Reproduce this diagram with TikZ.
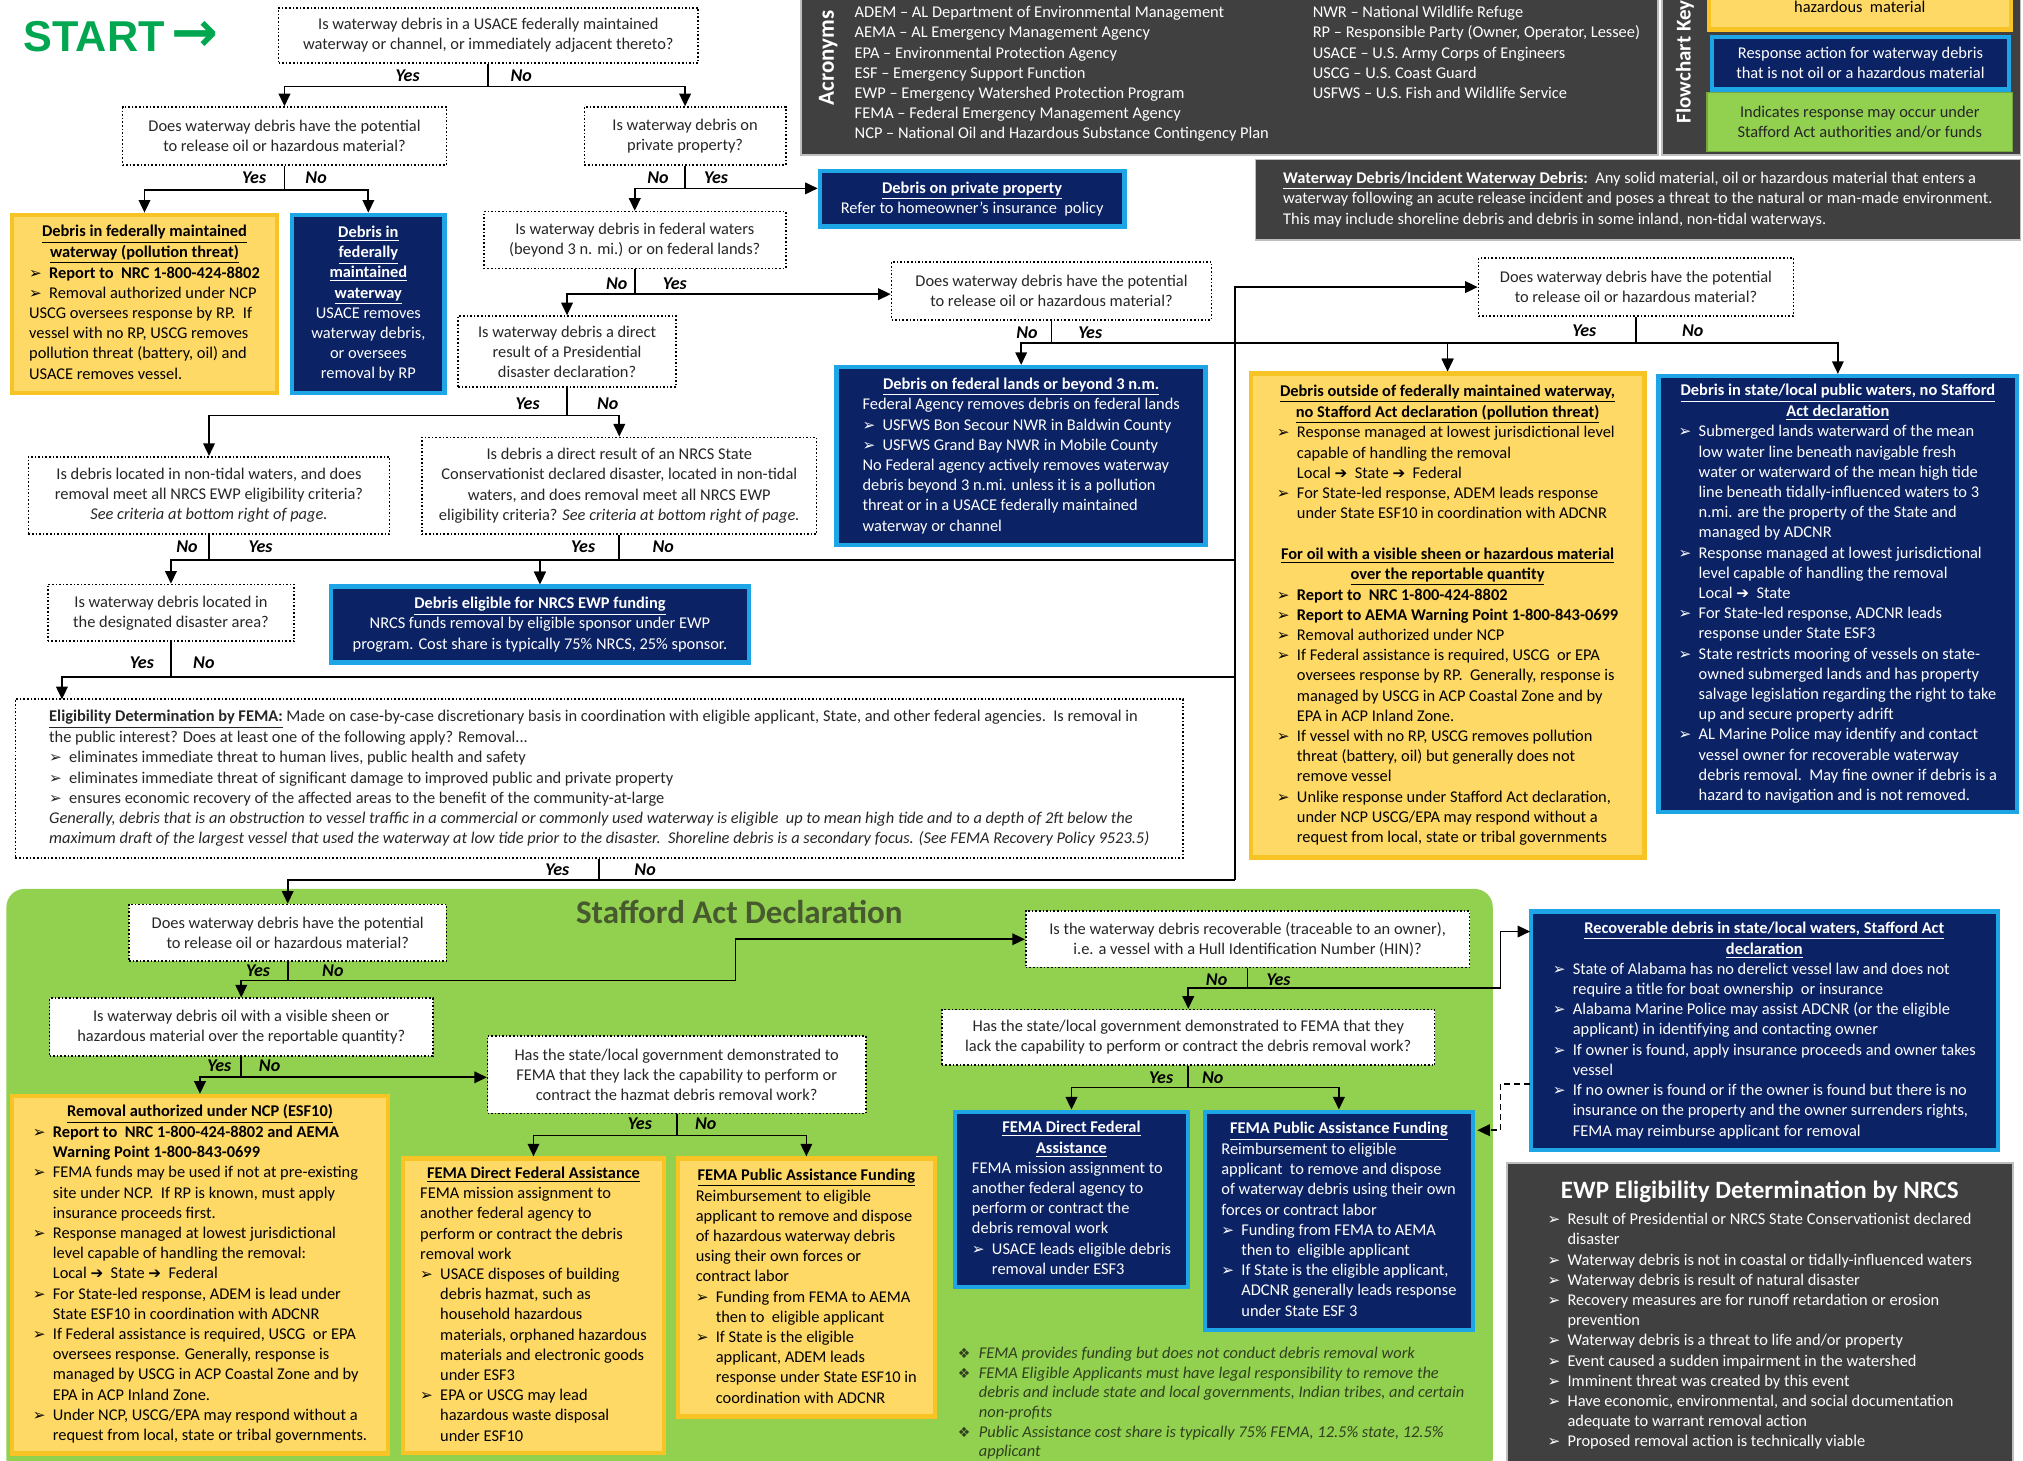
\documentclass[tikz,border=0pt]{standalone}
\usepackage{fontspec}
\setmainfont{Carlito}
\newfontfamily\symf{DejaVu Sans}
\newfontfamily\startf{Liberation Sans}
\usetikzlibrary{arrows.meta}
\definecolor{navyfill}{HTML}{0B2265}
\definecolor{navyline}{HTML}{1EA5E6}
\definecolor{hazfill}{HTML}{FFD966}
\definecolor{hazline}{HTML}{F7C325}
\definecolor{stafford}{HTML}{92D050}
\definecolor{panelgrey}{HTML}{404040}
\definecolor{startgreen}{HTML}{00A650}
\definecolor{olive}{HTML}{46592F}
\definecolor{notegreen}{HTML}{30401F}
\newcommand\bul{\makebox[10pt][l]{\symf\fontsize{7.6}{8}\selectfont ➢}}
\newcommand\ind{\hspace*{10pt}}
\newcommand\rar{{\symf\fontsize{7.6}{8}\selectfont ➔}}
\newcommand\dia{\makebox[10.5pt][l]{\symf\fontsize{7}{8}\selectfont ❖}}
\newcommand\ttl[1]{\multicolumn{1}{@{}c@{}}{\bfseries\underline{#1}}}
\newcommand\ctr[1]{\multicolumn{1}{@{}c@{}}{#1}}
\newcommand\tb[1]{\begin{tabular}{@{}l@{}}#1\end{tabular}}

\begin{document}
\begin{tikzpicture}[x=0.645pt, y=-0.645pt,
  font=\fontsize{8.2}{10.1}\selectfont,
  wh/.code 2 args={\pgfmathsetlengthmacro\boxw{(#1)*0.645pt}\pgfmathsetlengthmacro\boxh{(#2)*0.645pt}%
    \edef\whtmp{\noexpand\pgfkeysalso{minimum width=\boxw, minimum height=\boxh}}\whtmp},
  qbox/.style={draw, densely dotted, line width=0.8pt, fill=white, text=black!85, align=center, inner sep=2pt},
  navybox/.style={draw=navyline, line width=2.2pt, fill=navyfill, text=white, inner xsep=4pt, inner ysep=2pt},
  hazbox/.style={draw=hazline, line width=2.2pt, fill=hazfill, text=black, inner xsep=4pt, inner ysep=2pt},
  panel/.style={fill=panelgrey, draw=gray!50, line width=0.8pt, text=white},
  yn/.style={font=\fontsize{9}{10}\selectfont\bfseries\itshape, inner sep=0pt},
  link/.style={line width=0.85pt},
  flow/.style={link, -{Triangle[length=6.3pt, width=5.8pt]}}
]
\useasboundingbox (0,0) rectangle (1568,1132);

% background regions
\node[fill=stafford, rounded corners=9pt, wh={1152}{456}] (stafford) at (581,917) {};
\node[font=\fontsize{16.5}{18}\selectfont\bfseries, text=olive] (staffordTitle) at (573,707) {Stafford Act Declaration};
\node[panel, wh={664}{125}] (acro) at (953,57.5) {};
\node[panel, wh={278}{125}] (keyp) at (1427,57.5) {};
\node[panel, wh={593}{62.5}] (defp) at (1269.5,154.75) {\tb{\textbf{\underline{Waterway Debris/Incident Waterway Debris}:}\ \ Any solid material, oil or hazardous material that enters a\\
  waterway following an acute release incident and poses a threat to the natural or man-made environment.\\
  This may include shoreline debris and debris in some inland, non-tidal waterways.}};
\node[panel, wh={392}{238.5}] (ewpPanel) at (1364,1020.75) {\tb{\multicolumn{1}{@{}c@{}}{\fontsize{12.5}{15}\selectfont\bfseries EWP Eligibility Determination by NRCS}\\[3pt]
  \bul Result of Presidential or NRCS State Conservationist declared\\
  \ind disaster\\
  \bul Waterway debris is not in coastal or tidally-influenced waters\\
  \bul Waterway debris is result of natural disaster\\
  \bul Recovery measures are for runoff retardation or erosion\\
  \ind prevention\\
  \bul Waterway debris is a threat to life and/or property\\
  \bul Event caused a sudden impairment in the watershed\\
  \bul Imminent threat was created by this event\\
  \bul Have economic, environmental, and social documentation\\
  \ind adequate to warrant removal action\\
  \bul Proposed removal action is technically viable}};

% acronyms and key
\node[rotate=90, font=\fontsize{11.5}{13}\selectfont\bfseries, text=white] (acroLbl) at (642,45) {Acronyms};
\node[anchor=west, text=white] (acroList) at (657,57.5) {\begin{tabular}{@{}p{229pt}@{}l@{}}
  ADEM – AL Department of Environmental Management & NWR – National Wildlife Refuge\\
  AEMA – AL Emergency Management Agency & RP – Responsible Party (Owner, Operator, Lessee)\\
  EPA – Environmental Protection Agency & USACE – U.S. Army Corps of Engineers\\
  ESF – Emergency Support Function & USCG – U.S. Coast Guard\\
  EWP – Emergency Watershed Protection Program & USFWS – U.S. Fish and Wildlife Service\\
  FEMA – Federal Emergency Management Agency & \\
  NCP – National Oil and Hazardous Substance Contingency Plan &
\end{tabular}};
\node[rotate=90, anchor=west, font=\fontsize{10.5}{12}\selectfont\bfseries, text=white] (keyLbl) at (1306,101) {Flowchart Key};
\node[hazbox, wh={234}{41}, align=center] (keyHaz) at (1441.5,2.25) {\mbox{}\\hazardous\ \ material};
\node[navybox, wh={230}{41}, align=center] (keyNavy) at (1442,49) {Response action for waterway debris\\that is not oil or a hazardous material};
\node[fill=stafford, draw=stafford!80!black, line width=0.6pt, wh={237}{45.6}, align=center, text=black!85] (keyGreen) at (1441.5,94.8) {Indicates response may occur under\\Stafford Act authorities and/or funds};

\node[anchor=west, text=startgreen, font=\startf\fontsize{21.6}{24}\selectfont\bfseries] (start) at (13,28.5) {START\,{\symf\fontsize{28}{28}\selectfont →}};

% questions
\node[qbox, wh={325}{43}] (q1) at (378.5,27.5) {Is waterway debris in a USACE federally maintained\\waterway or channel, or immediately adjacent thereto?};
\node[qbox, wh={251}{45}] (q2) at (220.5,105.5) {Does waterway debris have the potential\\to release oil or hazardous material?};
\node[qbox, wh={156}{45}] (q3) at (531,105.5) {Is waterway debris on\\private property?};
\node[qbox, wh={234}{44}] (q4) at (492,186) {Is waterway debris in federal waters\\(beyond 3 n. mi.) or on federal lands?};
\node[qbox, wh={169}{55}] (q5) at (439.5,272.5) {Is waterway debris a direct\\result of a Presidential\\disaster declaration?};
\node[qbox, wh={248}{45}] (q6) at (815,225.5) {Does waterway debris have the potential\\to release oil or hazardous material?};
\node[qbox, wh={244}{45}] (q9) at (1268,222.5) {Does waterway debris have the potential\\to release oil or hazardous material?};
\node[qbox, wh={280}{60}] (q7) at (162,384) {Is debris located in non-tidal waters, and does\\removal meet all NRCS EWP eligibility criteria?\\\textit{See criteria at bottom right of page.}};
\node[qbox, wh={306}{75}] (q8) at (480,376.5) {Is debris a direct result of an NRCS State\\Conservationist declared disaster, located in non-tidal\\waters, and does removal meet all NRCS EWP\\eligibility criteria? \textit{See criteria at bottom right of page.}};
\node[qbox, wh={191}{44}] (qd) at (132.5,475) {Is waterway debris located in\\the designated disaster area?};
\node[qbox, wh={905}{123}] (fema) at (464.5,603.5) {\tb{\textbf{\underline{Eligibility Determination by FEMA:}} Made on case-by-case discretionary basis in coordination with eligible applicant, State, and other federal agencies.\ \ Is removal in\\
  the public interest? Does at least one of the following apply? Removal...\\
  \bul eliminates immediate threat to human lives, public health and safety\\
  \bul eliminates immediate threat of significant damage to improved public and private property\\
  \bul ensures economic recovery of the affected areas to the benefit of the community-at-large\\
  \itshape Generally, debris that is an obstruction to vessel traffic in a commercial or commonly used waterway is eligible\ \ up to mean high tide and to a depth of 2ft below the\\
  \itshape maximum draft of the largest vessel that used the waterway at low tide prior to the disaster.\ \ Shoreline debris is a secondary focus. (See FEMA Recovery Policy 9523.5)}};
\node[qbox, wh={246}{44}] (q10) at (223,723) {Does waterway debris have the potential\\to release oil or hazardous material?};
\node[qbox, wh={297}{44.5}] (q11) at (187,796) {Is waterway debris oil with a visible sheen or\\hazardous material over the reportable quantity?};
\node[qbox, wh={293}{60}] (q13) at (524.5,833) {Has the state/local government demonstrated to\\FEMA that they lack the capability to perform or\\contract the hazmat debris removal work?};
\node[qbox, wh={344}{43.5}] (q12) at (967,728) {Is the waterway debris recoverable (traceable to an owner),\\i.e. a vessel with a Hull Identification Number (HIN)?};
\node[qbox, wh={382}{43}] (q14) at (921,804) {Has the state/local government demonstrated to FEMA that they\\lack the capability to perform or contract the debris removal work?};

% outcomes
\node[navybox, wh={236}{43}, align=center] (priv) at (753.5,154) {\textbf{\underline{Debris on private property}}\\Refer to homeowner's insurance\ \ policy};
\node[hazbox, wh={205}{138}] (boxA) at (112,235.5) {\tb{\ttl{Debris in federally maintained}\\
  \ttl{waterway (pollution threat)}\\
  \bul\textbf{Report to\ \ NRC 1-800-424-8802}\\
  \bul Removal authorized under NCP\\
  USCG oversees response by RP.\ \ If\\
  vessel with no RP, USCG removes\\
  pollution threat (battery, oil) and\\
  USACE removes vessel.}};
\node[navybox, wh={118}{138}, align=center] (boxB) at (285.5,235.5) {\textbf{\underline{Debris in}}\\\textbf{\underline{federally}}\\\textbf{\underline{maintained}}\\\textbf{\underline{waterway}}\\USACE removes\\waterway debris,\\or oversees\\removal by RP};
\node[navybox, wh={286}{138}] (fed) at (791.5,353.5) {\tb{\ttl{Debris on federal lands or beyond 3 n.m.}\\
  \ctr{Federal Agency removes debris on federal lands}\\
  \bul USFWS Bon Secour NWR in Baldwin County\\
  \bul USFWS Grand Bay NWR in Mobile County\\
  No Federal agency actively removes waterway\\
  debris beyond 3 n.mi. unless it is a pollution\\
  threat or in a USACE federally maintained\\
  waterway or channel}};
\node[hazbox, wh={305}{375}] (boxC) at (1122,477) {\tb{\ttl{Debris outside of federally maintained waterway,}\\
  \ttl{no Stafford Act declaration (pollution threat)}\\
  \bul Response managed at lowest jurisdictional level\\
  \ind capable of handling the removal\\
  \ind Local \rar\ \ State \rar\ \ Federal\\
  \bul For State-led response, ADEM leads response\\
  \ind under State ESF10 in coordination with ADCNR\\
  \\
  \ttl{For oil with a visible sheen or hazardous material}\\
  \ttl{over the reportable quantity}\\
  \bul\textbf{Report to\ \ NRC 1-800-424-8802}\\
  \bul\textbf{Report to AEMA Warning Point 1-800-843-0699}\\
  \bul Removal authorized under NCP\\
  \bul If Federal assistance is required, USCG\ \ or EPA\\
  \ind oversees response by RP.\ \ Generally, response is\\
  \ind managed by USCG in ACP Coastal Zone and by\\
  \ind EPA in ACP Inland Zone.\\
  \bul If vessel with no RP, USCG removes pollution\\
  \ind threat (battery, oil) but generally does not\\
  \ind remove vessel\\
  \bul Unlike response under Stafford Act declaration,\\
  \ind under NCP USCG/EPA may respond without a\\
  \ind request from local, state or tribal governments}};
\node[navybox, wh={278}{338}] (boxD) at (1424.5,460.5) {\tb{\ttl{Debris in state/local public waters, no Stafford}\\
  \ttl{Act declaration}\\
  \bul Submerged lands waterward of the mean\\
  \ind low water line beneath navigable fresh\\
  \ind water or waterward of the mean high tide\\
  \ind line beneath tidally-influenced waters to 3\\
  \ind n.mi. are the property of the State and\\
  \ind managed by ADCNR\\
  \bul Response managed at lowest jurisdictional\\
  \ind level capable of handling the removal\\
  \ind Local \rar\ \ State\\
  \bul For State-led response, ADCNR leads\\
  \ind response under State ESF3\\
  \bul State restricts mooring of vessels on state-\\
  \ind owned submerged lands and has property\\
  \ind salvage legislation regarding the right to take\\
  \ind up and secure property adrift\\
  \bul AL Marine Police may identify and contact\\
  \ind vessel owner for recoverable waterway\\
  \ind debris removal.\ \ May fine owner if debris is a\\
  \ind hazard to navigation and is not removed.}};
\node[navybox, wh={324}{59}, align=center] (ewp) at (418.5,484) {\textbf{\underline{Debris eligible for NRCS EWP funding}}\\NRCS funds removal by eligible sponsor under EWP\\program. Cost share is typically 75\% NRCS, 25\% sponsor.};
\node[hazbox, wh={291}{277}] (boxE) at (155,988) {\tb{\ttl{Removal authorized under NCP (ESF10)}\\
  \bul\textbf{Report to\ \ NRC 1-800-424-8802 and AEMA}\\
  \ind\textbf{Warning Point 1-800-843-0699}\\
  \bul FEMA funds may be used if not at pre-existing\\
  \ind site under NCP.\ \ If RP is known, must apply\\
  \ind insurance proceeds first.\\
  \bul Response managed at lowest jurisdictional\\
  \ind level capable of handling the removal:\\
  \ind Local \rar\ \ State \rar\ \ Federal\\
  \bul For State-led response, ADEM is lead under\\
  \ind State ESF10 in coordination with ADCNR\\
  \bul If Federal assistance is required, USCG\ \ or EPA\\
  \ind oversees response. Generally, response is\\
  \ind managed by USCG in ACP Coastal Zone and by\\
  \ind EPA in ACP Inland Zone.\\
  \bul Under NCP, USCG/EPA may respond without a\\
  \ind request from local, state or tribal governments.}};
\node[hazbox, wh={202}{228}] (boxF) at (413.5,1012) {\tb{\ttl{FEMA Direct Federal Assistance}\\
  FEMA mission assignment to\\
  another federal agency to\\
  perform or contract the debris\\
  removal work\\
  \bul USACE disposes of building\\
  \ind debris hazmat, such as\\
  \ind household hazardous\\
  \ind materials, orphaned hazardous\\
  \ind materials and electronic goods\\
  \ind under ESF3\\
  \bul EPA or USCG may lead\\
  \ind hazardous waste disposal\\
  \ind under ESF10}};
\node[hazbox, wh={199}{200}] (boxG) at (625,998) {\tb{\ttl{FEMA Public Assistance Funding}\\
  Reimbursement to eligible\\
  applicant to remove and dispose\\
  of hazardous waterway debris\\
  using their own forces or\\
  contract labor\\
  \bul Funding from FEMA to AEMA\\
  \ind then to\ \ eligible applicant\\
  \bul If State is the eligible\\
  \ind applicant, ADEM leads\\
  \ind response under State ESF10 in\\
  \ind coordination with ADCNR}};
\node[navybox, wh={181}{136}] (boxH) at (830.5,929.7) {\tb{\ttl{FEMA Direct Federal}\\
  \ttl{Assistance}\\
  FEMA mission assignment to\\
  another federal agency to\\
  perform or contract the\\
  debris removal work\\
  \bul USACE leads eligible debris\\
  \ind removal under ESF3}};
\node[navybox, wh={208}{169}] (boxI) at (1037.75,946.2) {\tb{\ttl{FEMA Public Assistance Funding}\\
  Reimbursement to eligible\\
  applicant\ \ to remove and dispose\\
  of waterway debris using their own\\
  forces or contract labor\\
  \bul Funding from FEMA to AEMA\\
  \ind then to\ \ eligible applicant\\
  \bul If State is the eligible applicant,\\
  \ind ADCNR generally leads response\\
  \ind under State ESF 3}};
\node[navybox, wh={362}{185}] (rec) at (1367.5,799) {\tb{\ttl{Recoverable debris in state/local waters, Stafford Act}\\
  \ttl{declaration}\\
  \bul State of Alabama has no derelict vessel law and does not\\
  \ind require a title for boat ownership\ \ or insurance\\
  \bul Alabama Marine Police may assist ADCNR (or the eligible\\
  \ind applicant) in identifying and contacting owner\\
  \bul If owner is found, apply insurance proceeds and owner takes\\
  \ind vessel\\
  \bul If no owner is found or if the owner is found but there is no\\
  \ind insurance on the property and the owner surrenders rights,\\
  \ind FEMA may reimburse applicant for removal}};
\node[anchor=north west, text=notegreen, font=\fontsize{8.2}{9.8}\selectfont\itshape] (notes) at (737,1037) {\tb{\dia FEMA provides funding but does not conduct debris removal work\\
  \dia FEMA Eligible Applicants must have legal responsibility to remove the\\
  \hspace*{10.5pt}debris and include state and local governments, Indian tribes, and certain\\
  \hspace*{10.5pt}non-profits\\
  \dia Public Assistance cost share is typically 75\% FEMA, 12.5\% state, 12.5\%\\
  \hspace*{10.5pt}applicant}};

% junctions
\coordinate (j1) at (378.5,67);
\coordinate (j2) at (220.5,147);
\coordinate (j3) at (531,146);
\coordinate (j4) at (492,228);
\coordinate (j5) at (439.5,322);
\coordinate (j6) at (815,266);
\coordinate (j9) at (1268,266);
\coordinate (j7) at (162,434);
\coordinate (j8) at (480,434);
\coordinate (jd) at (132.5,524.5);
\coordinate (feIn) at (48,542);
\coordinate (jf) at (464.5,682);
\coordinate (rail) at (957,682);
\coordinate (j10) at (223,760);
\coordinate (k10) at (570,760);
\coordinate (j11) at (187,835);
\coordinate (j13) at (524.5,880);
\coordinate (j12) at (967,766);
\coordinate (k12) at (1163,766);
\coordinate (recIn) at (1186,722);
\coordinate (j14) at (921,843);
\coordinate (recOut) at (1186,840);
\coordinate (k14) at (1163,876);
\coordinate (iIn) at (1145,876);

% yes / no labels
\node[yn] (y1) at (316,59) {Yes}; \node[yn] (n1) at (404,59) {No};
\node[yn] (y2) at (197,138) {Yes}; \node[yn] (n2) at (245,138) {No};
\node[yn] (n3) at (510,138) {No}; \node[yn] (y3) at (555,138) {Yes};
\node[yn] (n4) at (478,220) {No}; \node[yn] (y4) at (523,220) {Yes};
\node[yn] (y5) at (409,313) {Yes}; \node[yn] (n5) at (471,313) {No};
\node[yn] (n6) at (796,258) {No}; \node[yn] (y6) at (845,258) {Yes};
\node[yn] (y9) at (1228,256) {Yes}; \node[yn] (n9) at (1312,256) {No};
\node[yn] (n7) at (145,424) {No}; \node[yn] (y7) at (202,424) {Yes};
\node[yn] (y8) at (452,424) {Yes}; \node[yn] (n8) at (514,424) {No};
\node[yn] (yd) at (110,514) {Yes}; \node[yn] (nd) at (158,514) {No};
\node[yn] (yf) at (432,674) {Yes}; \node[yn] (nf) at (500,674) {No};
\node[yn] (y10) at (200,752) {Yes}; \node[yn] (n10) at (258,752) {No};
\node[yn] (y11) at (170,826) {Yes}; \node[yn] (n11) at (209,826) {No};
\node[yn] (y13) at (496,871) {Yes}; \node[yn] (n13) at (547,871) {No};
\node[yn] (n12) at (943,759) {No}; \node[yn] (y12) at (991,759) {Yes};
\node[yn] (y14) at (900,835) {Yes}; \node[yn] (n14) at (940,835) {No};

% connectors
\draw[link] (q1.south) -- (j1);
\draw[flow] (j1) -| (q2.north);
\draw[flow] (j1) -| (q3.north);
\draw[link] (q2.south) -- (j2);
\draw[flow] (j2) -| (boxA.north);
\draw[flow] (j2) -| (boxB.north);
\draw[link] (q3.south) -- (j3);
\draw[flow] (j3) -| (q4.north);
\draw[flow] (j3) -- (j3 -| priv.west);
\draw[link] (q4.south) -- (j4);
\draw[flow] (j4) -| (q5.north);
\draw[flow] (j4) -- (j4 -| q6.west);
\draw[link] (q5.south) -- (j5);
\draw[flow] (j5) -| (q7.north);
\draw[flow] (j5) -| (q8.north);
\draw[link] (q6.south) -- (j6);
\draw[flow] (j6) -| (fed.north);
\draw[flow] (j6) -| (boxC.north);
\draw[link] (q9.south) -- (j9);
\draw[flow] (j9) -| (boxC.north);
\draw[flow] (j9) -| (boxD.north);
\draw[link] (q7.south) -- (j7);
\draw[flow] (j7) -| (qd.north);
\draw[flow] (j7) -| (ewp.north);
\draw[link] (q8.south) -- (j8);
\draw[flow] (j8) -| (ewp.north);
\draw[link] (j8) -- (j8 -| rail);
\draw[link] (qd.south) -- (jd);
\draw[flow] (jd) -| (feIn);
\draw[link] (jd) -- (jd -| rail);
\draw[link] (fema.south) -- (jf);
\draw[flow] (jf) -| (q10.north);
\draw[link] (jf) -- (rail);
\draw[flow] (rail) |- (q9.west);
\draw[link] (q10.south) -- (j10);
\draw[flow] (j10) -| (q11.north);
\draw[flow] (j10) -- (k10) |- (q12.west);
\draw[link] (q11.south) -- (j11);
\draw[flow] (j11) -| (boxE.north);
\draw[flow] (j11) -- (j11 -| q13.west);
\draw[link] (q13.south) -- (j13);
\draw[flow] (j13) -| (boxF.north);
\draw[flow] (j13) -| (boxG.north);
\draw[link] (q12.south) -- (j12);
\draw[flow] (j12) -| (q14.north);
\draw[flow] (j12) -- (k12) |- (recIn);
\draw[link] (q14.south) -- (j14);
\draw[flow] (j14) -| (boxH.north);
\draw[flow] (j14) -| (boxI.north);
\draw[flow, densely dashed] (recOut) -| (k14) -- (iIn);
\end{tikzpicture}
\end{document}
